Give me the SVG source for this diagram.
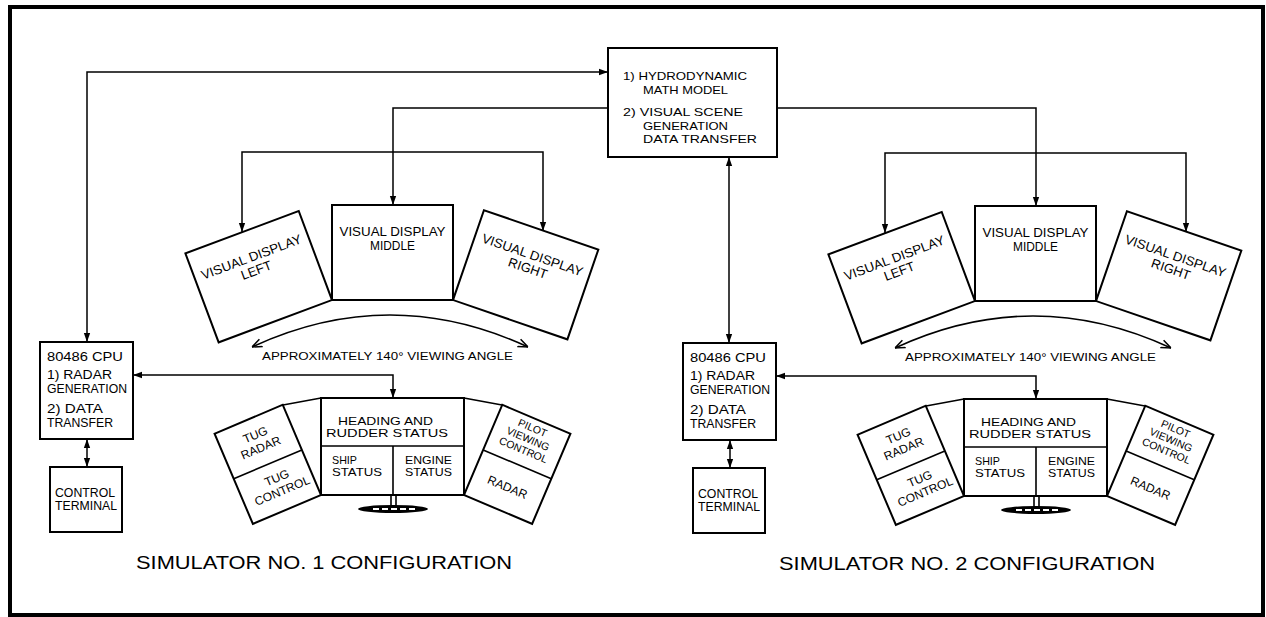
<svg xmlns="http://www.w3.org/2000/svg" width="1266" height="617" viewBox="0 0 1266 617">
<defs>
<style>
.b{fill:#fff;stroke:#000;stroke-width:2}
.d{fill:none;stroke:#000;stroke-width:1.6}
.c{fill:none;stroke:#000;stroke-width:1.5}
text{font-family:"Liberation Sans",Arial,sans-serif;fill:#000}
.t13{font-size:13px}
.t12{font-size:12px}
.tb{font-size:11.5px}
.t11{font-size:11px}
.t10{font-size:10.5px}
.ttl{font-size:19px}
.m{text-anchor:middle}
</style>
<marker id="ah" viewBox="0 0 10 10" refX="10" refY="5" markerWidth="9" markerHeight="9" markerUnits="userSpaceOnUse" orient="auto-start-reverse"><path d="M0,1.5 L10,5 L0,8.5 z" fill="#000"/></marker>
<marker id="oa" viewBox="0 0 10 10" refX="10" refY="5" markerWidth="10" markerHeight="10" markerUnits="userSpaceOnUse" orient="auto-start-reverse"><path d="M0,1 L10,5 L0,9" fill="none" stroke="#000" stroke-width="1.5"/></marker>
</defs>
<rect width="1266" height="617" fill="#fff"/>
<rect x="10" y="7" width="1253" height="608" fill="none" stroke="#000" stroke-width="4"/>

<g id="connectors" class="c">
 <path d="M87,342 V72 H608" marker-start="url(#ah)" marker-end="url(#ah)"/>
 <path d="M608,108 H393 V205" marker-end="url(#ah)"/>
 <path d="M242,232 V152 H543 V231" marker-start="url(#ah)" marker-end="url(#ah)"/>
 <path d="M777,108 H1036 V206" marker-end="url(#ah)"/>
 <path d="M885,233 V153 H1186 V232" marker-start="url(#ah)" marker-end="url(#ah)"/>
 <path d="M729,157 V343" marker-start="url(#ah)" marker-end="url(#ah)"/>
 <path d="M133,375 H393 V398" marker-start="url(#ah)" marker-end="url(#ah)"/>
 <path d="M87,439 V467" marker-start="url(#ah)" marker-end="url(#ah)"/>
 <path d="M776,376 H1036 V399" marker-start="url(#ah)" marker-end="url(#ah)"/>
 <path d="M730,440 V468" marker-start="url(#ah)" marker-end="url(#ah)"/>
 <path d="M252,347 Q390,283 528,347" marker-start="url(#oa)" marker-end="url(#oa)"/>
 <path d="M895,348 Q1033,284 1171,348" marker-start="url(#oa)" marker-end="url(#oa)"/>
</g>

<g id="math-model">
 <rect class="b" x="608" y="48" width="169" height="109"/>
 <text class="tb" x="623" y="80" textLength="124" lengthAdjust="spacingAndGlyphs">1) HYDRODYNAMIC</text>
 <text class="tb" x="643" y="93.5" textLength="85" lengthAdjust="spacingAndGlyphs">MATH MODEL</text>
 <text class="tb" x="623" y="116" textLength="120" lengthAdjust="spacingAndGlyphs">2) VISUAL SCENE</text>
 <text class="tb" x="643" y="129.5" textLength="85" lengthAdjust="spacingAndGlyphs">GENERATION</text>
 <text class="tb" x="643" y="143" textLength="114" lengthAdjust="spacingAndGlyphs">DATA TRANSFER</text>
</g>

<!-- Simulator 1 -->
<g id="sim1-display-left" transform="translate(332,300) rotate(-20.5) translate(-121,-95)">
 <rect class="b" width="121" height="95"/>
 <text class="t13 m" x="60.5" y="31" textLength="106" lengthAdjust="spacingAndGlyphs">VISUAL DISPLAY</text>
 <text class="t13 m" x="60.5" y="45">LEFT</text>
</g>
<g id="sim1-display-middle">
 <rect class="b" x="332" y="205" width="121" height="95"/>
 <text class="t13 m" x="392.5" y="236" textLength="106" lengthAdjust="spacingAndGlyphs">VISUAL DISPLAY</text>
 <text class="t13 m" x="392.5" y="250" textLength="45" lengthAdjust="spacingAndGlyphs">MIDDLE</text>
</g>
<g id="sim1-display-right" transform="translate(453,300) rotate(19) translate(0,-95)">
 <rect class="b" width="121" height="95"/>
 <text class="t13 m" x="60.5" y="31" textLength="106" lengthAdjust="spacingAndGlyphs">VISUAL DISPLAY</text>
 <text class="t13 m" x="60.5" y="45">RIGHT</text>
</g>
<g id="sim1-angle">
 <text class="t11 m" x="387.5" y="360" textLength="251" lengthAdjust="spacingAndGlyphs">APPROXIMATELY 140° VIEWING ANGLE</text>
</g>
<g id="sim1-cpu">
 <rect class="b" x="40" y="342" width="93" height="97"/>
 <text class="t13" x="47" y="361" textLength="76" lengthAdjust="spacingAndGlyphs">80486 CPU</text>
 <text class="t13" x="47" y="379" textLength="65" lengthAdjust="spacingAndGlyphs">1) RADAR</text>
 <text class="t13" x="47" y="393" textLength="80" lengthAdjust="spacingAndGlyphs">GENERATION</text>
 <text class="t13" x="47" y="413" textLength="56" lengthAdjust="spacingAndGlyphs">2) DATA</text>
 <text class="t13" x="47" y="427" textLength="66" lengthAdjust="spacingAndGlyphs">TRANSFER</text>
</g>
<g id="sim1-terminal">
 <rect class="b" x="50" y="467" width="72" height="65"/>
 <text class="t13" x="55" y="497" textLength="60" lengthAdjust="spacingAndGlyphs">CONTROL</text>
 <text class="t13" x="55" y="510" textLength="62" lengthAdjust="spacingAndGlyphs">TERMINAL</text>
</g>
<g id="sim1-console">
 <path class="d" d="M283,405 L321,398 M464,398 L502,405"/>
 <rect class="b" x="321" y="398" width="143" height="97"/>
 <path class="d" d="M321,446 H464 M393,446 V495"/>
 <text class="t11 m" x="385.5" y="425" textLength="95" lengthAdjust="spacingAndGlyphs">HEADING AND</text>
 <text class="t11 m" x="387" y="437" textLength="122" lengthAdjust="spacingAndGlyphs">RUDDER STATUS</text>
 <text class="t11" x="332" y="464" textLength="25" lengthAdjust="spacingAndGlyphs">SHIP</text>
 <text class="t11" x="332" y="476" textLength="50" lengthAdjust="spacingAndGlyphs">STATUS</text>
 <text class="t11" x="405" y="464" textLength="47" lengthAdjust="spacingAndGlyphs">ENGINE</text>
 <text class="t11" x="405" y="476" textLength="47" lengthAdjust="spacingAndGlyphs">STATUS</text>
 <g transform="translate(321,495) rotate(-23) translate(-74,-98)">
  <rect class="b" width="74" height="98"/>
  <path class="d" d="M0,49 H74"/>
  <text class="t12 m" x="37" y="21">TUG</text>
  <text class="t12 m" x="37" y="35">RADAR</text>
  <text class="t12 m" x="40" y="69">TUG</text>
  <text class="t12 m" x="40" y="83">CONTROL</text>
 </g>
 <g transform="translate(464,495) rotate(23) translate(0,-98)">
  <rect class="b" width="74" height="98"/>
  <path class="d" d="M0,49 H74"/>
  <text class="t10 m" x="37" y="13">PILOT</text>
  <text class="t10 m" x="37" y="25">VIEWING</text>
  <text class="t10 m" x="37" y="37">CONTROL</text>
  <text class="t12 m" x="37" y="78">RADAR</text>
 </g>
 <path class="d" d="M391,495 V506 M396,495 V506"/>
 <ellipse cx="393" cy="509" rx="35" ry="4" fill="#000"/>
 <path d="M373,509 H415" stroke="#fff" stroke-width="2.2" stroke-dasharray="6 3"/>
</g>
<g id="sim1-title">
 <text class="ttl" x="136" y="569" textLength="376" lengthAdjust="spacingAndGlyphs">SIMULATOR NO. 1 CONFIGURATION</text>
</g>

<!-- Simulator 2 -->
<g transform="translate(643,1)">
<g id="sim2-display-left" transform="translate(332,300) rotate(-20.5) translate(-121,-95)">
 <rect class="b" width="121" height="95"/>
 <text class="t13 m" x="60.5" y="31" textLength="106" lengthAdjust="spacingAndGlyphs">VISUAL DISPLAY</text>
 <text class="t13 m" x="60.5" y="45">LEFT</text>
</g>
<g id="sim2-display-middle">
 <rect class="b" x="332" y="205" width="121" height="95"/>
 <text class="t13 m" x="392.5" y="236" textLength="106" lengthAdjust="spacingAndGlyphs">VISUAL DISPLAY</text>
 <text class="t13 m" x="392.5" y="250" textLength="45" lengthAdjust="spacingAndGlyphs">MIDDLE</text>
</g>
<g id="sim2-display-right" transform="translate(453,300) rotate(19) translate(0,-95)">
 <rect class="b" width="121" height="95"/>
 <text class="t13 m" x="60.5" y="31" textLength="106" lengthAdjust="spacingAndGlyphs">VISUAL DISPLAY</text>
 <text class="t13 m" x="60.5" y="45">RIGHT</text>
</g>
<g id="sim2-angle">
 <text class="t11 m" x="387.5" y="360" textLength="251" lengthAdjust="spacingAndGlyphs">APPROXIMATELY 140° VIEWING ANGLE</text>
</g>
<g id="sim2-cpu">
 <rect class="b" x="40" y="342" width="93" height="97"/>
 <text class="t13" x="47" y="361" textLength="76" lengthAdjust="spacingAndGlyphs">80486 CPU</text>
 <text class="t13" x="47" y="379" textLength="65" lengthAdjust="spacingAndGlyphs">1) RADAR</text>
 <text class="t13" x="47" y="393" textLength="80" lengthAdjust="spacingAndGlyphs">GENERATION</text>
 <text class="t13" x="47" y="413" textLength="56" lengthAdjust="spacingAndGlyphs">2) DATA</text>
 <text class="t13" x="47" y="427" textLength="66" lengthAdjust="spacingAndGlyphs">TRANSFER</text>
</g>
<g id="sim2-terminal">
 <rect class="b" x="50" y="467" width="72" height="65"/>
 <text class="t13" x="55" y="497" textLength="60" lengthAdjust="spacingAndGlyphs">CONTROL</text>
 <text class="t13" x="55" y="510" textLength="62" lengthAdjust="spacingAndGlyphs">TERMINAL</text>
</g>
<g id="sim2-console">
 <path class="d" d="M283,405 L321,398 M464,398 L502,405"/>
 <rect class="b" x="321" y="398" width="143" height="97"/>
 <path class="d" d="M321,446 H464 M393,446 V495"/>
 <text class="t11 m" x="385.5" y="425" textLength="95" lengthAdjust="spacingAndGlyphs">HEADING AND</text>
 <text class="t11 m" x="387" y="437" textLength="122" lengthAdjust="spacingAndGlyphs">RUDDER STATUS</text>
 <text class="t11" x="332" y="464" textLength="25" lengthAdjust="spacingAndGlyphs">SHIP</text>
 <text class="t11" x="332" y="476" textLength="50" lengthAdjust="spacingAndGlyphs">STATUS</text>
 <text class="t11" x="405" y="464" textLength="47" lengthAdjust="spacingAndGlyphs">ENGINE</text>
 <text class="t11" x="405" y="476" textLength="47" lengthAdjust="spacingAndGlyphs">STATUS</text>
 <g transform="translate(321,495) rotate(-23) translate(-74,-98)">
  <rect class="b" width="74" height="98"/>
  <path class="d" d="M0,49 H74"/>
  <text class="t12 m" x="37" y="21">TUG</text>
  <text class="t12 m" x="37" y="35">RADAR</text>
  <text class="t12 m" x="40" y="69">TUG</text>
  <text class="t12 m" x="40" y="83">CONTROL</text>
 </g>
 <g transform="translate(464,495) rotate(23) translate(0,-98)">
  <rect class="b" width="74" height="98"/>
  <path class="d" d="M0,49 H74"/>
  <text class="t10 m" x="37" y="13">PILOT</text>
  <text class="t10 m" x="37" y="25">VIEWING</text>
  <text class="t10 m" x="37" y="37">CONTROL</text>
  <text class="t12 m" x="37" y="78">RADAR</text>
 </g>
 <path class="d" d="M391,495 V506 M396,495 V506"/>
 <ellipse cx="393" cy="509" rx="35" ry="4" fill="#000"/>
 <path d="M373,509 H415" stroke="#fff" stroke-width="2.2" stroke-dasharray="6 3"/>
</g>
<g id="sim2-title">
 <text class="ttl" x="136" y="569" textLength="376" lengthAdjust="spacingAndGlyphs">SIMULATOR NO. 2 CONFIGURATION</text>
</g>
</g>
</svg>
